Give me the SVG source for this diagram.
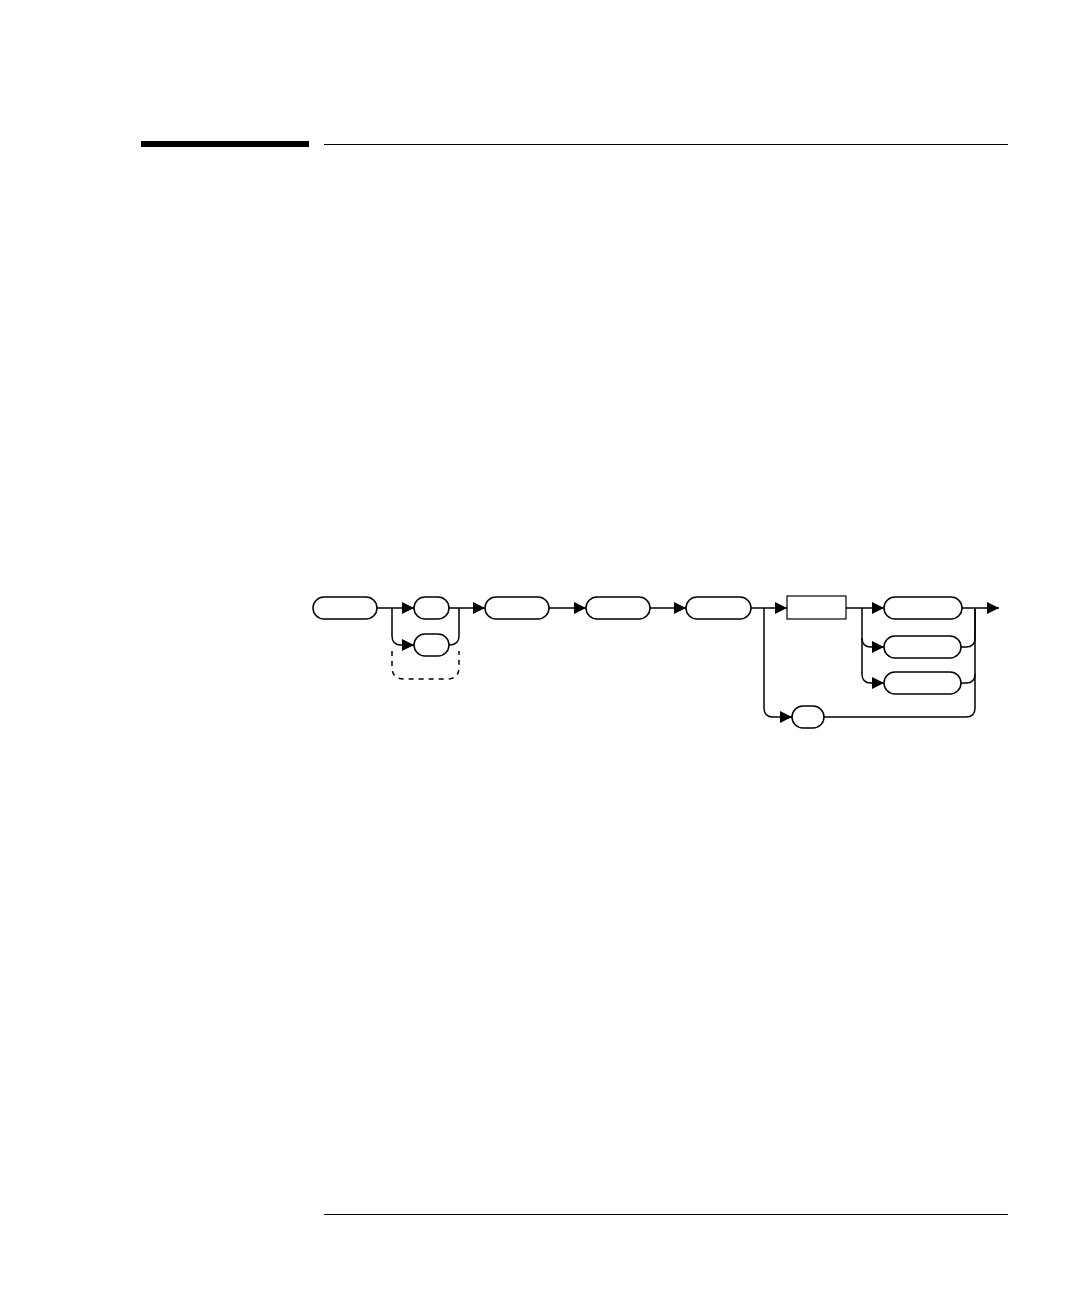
<svg xmlns="http://www.w3.org/2000/svg" width="1080" height="1296" viewBox="0 0 1080 1296">
<style>
.n{fill:#fff;stroke:#000;stroke-width:1.5}
.c{fill:none;stroke:#000;stroke-width:1.5}
.d{fill:none;stroke:#000;stroke-width:1.5;stroke-dasharray:5,5}
.r{stroke:#000;stroke-width:1}
</style>
<defs>
<marker id="a" viewBox="0 0 12 12" refX="12" refY="6" markerWidth="12" markerHeight="12" markerUnits="userSpaceOnUse" orient="auto">
<path d="M0,0 L12,6 L0,12 Z" fill="#000"/>
</marker>
</defs>
<rect x="141" y="141" width="168" height="6" fill="#000"/>
<line class="r" x1="324" y1="144.5" x2="1008" y2="144.5"/>
<line class="r" x1="324" y1="1214.5" x2="1008" y2="1214.5"/>
<g id="connectors">
<path class="c" d="M377,608 H414" marker-end="url(#a)"/>
<path class="c" d="M392,608 V636 Q392,645 401,645 H414" marker-end="url(#a)"/>
<path class="c" d="M449,608 H485" marker-end="url(#a)"/>
<path class="c" d="M449,645 Q459,645 459,636 V608"/>
<path class="d" d="M392,651 V667 Q392,679 404,679 H447 Q459,679 459,667 V651"/>
<path class="c" d="M549,608 H586" marker-end="url(#a)"/>
<path class="c" d="M650,608 H686" marker-end="url(#a)"/>
<path class="c" d="M751,608 H787" marker-end="url(#a)"/>
<path class="c" d="M764,608 V708 Q764,717 773,717 H792" marker-end="url(#a)"/>
<path class="c" d="M846,608 H884" marker-end="url(#a)"/>
<path class="c" d="M862,608 V638 Q862,647 871,647 H884" marker-end="url(#a)"/>
<path class="c" d="M862,638 V674 Q862,683 871,683 H884" marker-end="url(#a)"/>
<path class="c" d="M962,608 H999" marker-end="url(#a)"/>
<path class="c" d="M961,647 H966 Q975,647 975,638 V608"/>
<path class="c" d="M961,683 H966 Q975,683 975,674"/>
<path class="c" d="M824,717 H966 Q975,717 975,708 V608"/>
</g>
<g id="node1"><rect class="n" x="313" y="597" width="64" height="22" rx="11"/></g>
<g id="node2"><rect class="n" x="414" y="597" width="35" height="22" rx="11"/></g>
<g id="node3"><rect class="n" x="414" y="634" width="35" height="22" rx="11"/></g>
<g id="node4"><rect class="n" x="485" y="597" width="64" height="22" rx="11"/></g>
<g id="node5"><rect class="n" x="586" y="597" width="64" height="22" rx="11"/></g>
<g id="node6"><rect class="n" x="686" y="597" width="65" height="22" rx="11"/></g>
<g id="node7"><rect x="787" y="596" width="59" height="23" fill="#fff" stroke="#000" stroke-width="1.2"/></g>
<g id="node8"><rect class="n" x="884" y="597" width="78" height="22" rx="11"/></g>
<g id="node9"><rect class="n" x="884" y="636" width="77" height="22" rx="11"/></g>
<g id="node10"><rect class="n" x="884" y="672" width="77" height="22" rx="11"/></g>
<g id="node11"><rect class="n" x="792" y="706" width="32" height="22" rx="11"/></g>
</svg>
